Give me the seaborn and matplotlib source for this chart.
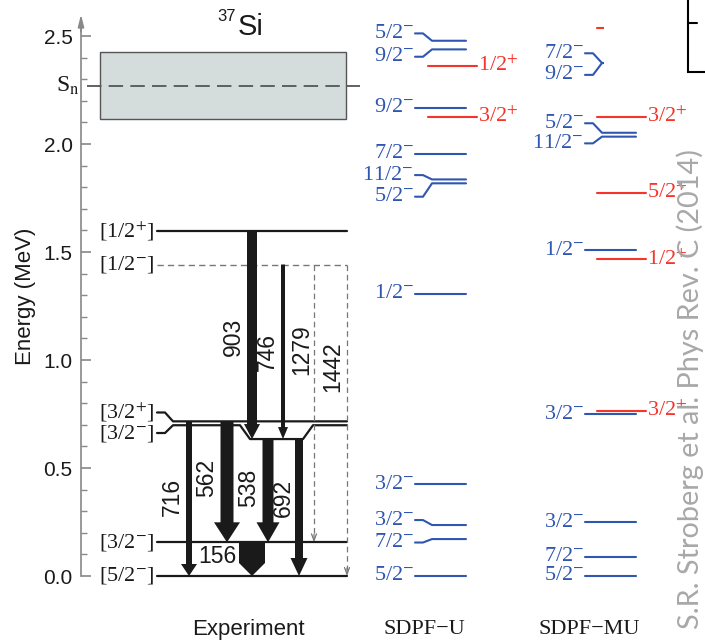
import matplotlib
matplotlib.use("Agg")
import numpy as np
import matplotlib.pyplot as plt
import seaborn as sns
from matplotlib.patches import Rectangle

# --- 37Si level scheme, energies in MeV ---
sn_energy = 2.27
sn_half_width = 0.155

exp_energy = [0.0, 0.156, 0.698, 0.716, 1.442, 1.597]
exp_spin = ["5/2", "3/2", "3/2", "3/2", "1/2", "1/2"]
exp_parity = ["-", "-", "-", "+", "-", "+"]
exp_label_energy = [0.0, 0.156, 0.662, 0.757, 1.442, 1.597]
exp_tentative = [False, False, False, False, True, False]
exp_spread = [False, False, True, False, False, False]
spread_energy = 0.634  # where the 3/2- level is pulled apart from 3/2+

gamma_kev = [903, 746, 1279, 1442, 716, 562, 538, 692, 156]
gamma_from = [1.597, 1.442, 1.442, 1.442, 0.716, 0.716, 0.634, 0.634, 0.156]
gamma_to = [0.634, 0.634, 0.156, 0.0, 0.0, 0.156, 0.156, 0.0, 0.0]
gamma_weak = [False, False, True, True, False, False, False, False, False]

# shell model SDPF-U
u_neg_energy = [0.0, 0.171, 0.236, 0.424, 1.306, 1.818, 1.836, 1.954, 2.168, 2.438, 2.478]
u_neg_spin = ["5/2", "7/2", "3/2", "3/2", "1/2", "5/2", "11/2", "7/2", "9/2", "9/2", "5/2"]
u_neg_label_energy = [0.0, 0.155, 0.259, 0.424, 1.306, 1.756, 1.856, 1.954, 2.168, 2.404, 2.512]
u_pos_energy = [2.127, 2.361]
u_pos_spin = ["3/2", "1/2"]

# shell model SDPF-MU
mu_neg_energy = [0.0, 0.089, 0.248, 0.748, 1.509, 2.034, 2.052, 2.375, 2.375]
mu_neg_spin = ["5/2", "7/2", "3/2", "3/2", "1/2", "11/2", "5/2", "9/2", "7/2"]
mu_neg_label_energy = [0.0, 0.089, 0.248, 0.748, 1.509, 2.003, 2.096, 2.32, 2.42]
mu_pos_energy = [0.765, 1.466, 1.772, 2.127, 2.537]
mu_pos_spin = ["3/2", "1/2", "5/2", "3/2", ""]

# --- style ---
ink, axis_grey, blue, red = "#1a1a1a", "#888888", "#2f56b0", "#f5352b"
px = 1 / 216  # one pixel in MeV

sns.set_theme(style="ticks")
plt.rcParams["font.family"] = ["Liberation Sans", "DejaVu Sans"]
plt.rcParams["mathtext.fontset"] = "stix"
serif = ["Liberation Serif", "DejaVu Serif"]


def jpi(spin, parity):
    return spin + "$^{" + parity + "}$" if spin else ""


fig = plt.figure(figsize=(7.05, 6.41), dpi=100)
ax = fig.add_axes([0, 0, 1, 1])
ax.set_xlim(0, 705)
ax.set_ylim(-65 * px, 576 * px)

# y axis
sns.despine(ax=ax, top=True, right=True, bottom=True, left=False)
ax.spines["left"].set_position(("data", 81))
ax.spines["left"].set_bounds(0, 2.58)
ax.spines["left"].set_color(axis_grey)
ax.spines["left"].set_linewidth(1.2)
ax.set_xticks([])
ax.set_yticks(np.arange(0, 2.51, 0.5))
ax.set_yticklabels([f"{v:.1f}" for v in np.arange(0, 2.51, 0.5)])
ax.set_yticks(np.arange(0, 2.55, 0.1), minor=True)
ax.tick_params(axis="y", which="major", left=True, direction="in", length=7, width=1.2,
               color=axis_grey, labelcolor=ink, labelsize=15, pad=6)
ax.tick_params(axis="y", which="minor", left=True, direction="in", length=4, width=1.0, color=axis_grey)
ax.annotate("", xy=(81, 2.60), xytext=(81, 2.52),
            arrowprops=dict(arrowstyle="-|>,head_length=0.6,head_width=0.15", color=axis_grey,
                            lw=1.2, shrinkA=0, shrinkB=0))
ax.text(25, 1.296, "Energy (MeV)", rotation=90, ha="center", va="center", fontsize=16, color=ink)

# neutron separation energy
ax.add_patch(Rectangle((100, sn_energy - sn_half_width), 246, 2 * sn_half_width,
                       facecolor="#d5dcdc", edgecolor="#555555", lw=1.0, zorder=1))
ax.plot([87, 360], [sn_energy, sn_energy], color="#555555", lw=1.3, dashes=(8, 4), zorder=2)
ax.text(80, sn_energy, "S$_\\mathrm{n}$", ha="right", va="center", fontsize=17, family=serif, color=ink)

# title
ax.text(238, 2.541, "Si", ha="left", va="center", fontsize=21, color=ink)
ax.text(236, 2.590, "37", ha="right", va="center", fontsize=12, color=ink)

# experimental levels
for e, s, p, le, tent, spread in zip(exp_energy, exp_spin, exp_parity, exp_label_energy,
                                     exp_tentative, exp_spread):
    xs, ys = [157, 165, 173], [le, le, e]
    if spread:
        xs += [240, 250, 303, 313]
        ys += [e, spread_energy, spread_energy, e]
    xs.append(347)
    ys.append(e)
    if tent:
        ax.plot(xs, ys, color="#777777", lw=1.0, dashes=(4.5, 3), zorder=3)
    else:
        ax.plot(xs, ys, color=ink, lw=1.6, zorder=3)
    ax.text(155, le, "[" + jpi(s, p) + "]", ha="right", va="center", fontsize=16, family=serif, color=ink)

# gamma transitions
gamma_x = [252, 283, 314, 347, 189, 227, 268, 299, 252]
gamma_w = [10, 4, 0, 0, 6, 13, 11, 8, 26]
head_w = [16, 10, 0, 0, 16, 26, 23, 17, 26]
head_l = [15, 12, 0, 0, 12, 20, 20, 18, 13]
lab_x = [233, 267, 302, 333, 172, 207, 249, 283, 217]
lab_e = [1.106, 1.037, 1.046, 0.968, 0.366, 0.454, 0.407, 0.361, 0.088]
for k, x, e0, e1, weak, w, hw, hl, lx, le in zip(gamma_kev, gamma_x, gamma_from, gamma_to, gamma_weak,
                                                gamma_w, head_w, head_l, lab_x, lab_e):
    if weak:
        ax.plot([x, x], [e0, e1 + 6 * px], color="#777777", lw=0.9, dashes=(4.5, 3), zorder=3)
        ax.annotate("", xy=(x, e1), xytext=(x, e1 + 8 * px),
                    arrowprops=dict(arrowstyle="->,head_length=0.4,head_width=0.15", color="#777777",
                                    lw=0.9, shrinkA=0, shrinkB=0))
    else:
        ax.arrow(x, e0, 0, e1 - e0, width=w, head_width=hw, head_length=hl * px,
                 length_includes_head=True, color=ink, lw=0, zorder=4)
    rot = 0 if k == 156 else 90
    ax.text(lx, le, str(k), rotation=rot, ha="center", va="center", fontsize=16.5, color=ink, zorder=5)


# shell model columns
def draw_model(neg_e, neg_s, neg_le, pos_e, pos_s, x_lab, x_end, xr0, xr1):
    for e, s, le in zip(neg_e, neg_s, neg_le):
        ax.plot([x_lab + 1, x_lab + 9, x_lab + 18, x_end], [le, le, e, e], color=blue, lw=1.5, zorder=3)
        ax.text(x_lab, le, jpi(s, "-"), ha="right", va="center", fontsize=16, family=serif, color=blue)
    for e, s in zip(pos_e, pos_s):
        ax.plot([xr0, xr1], [e, e], color=red, lw=1.5, zorder=3)
        ax.text(xr1 + 1, e, jpi(s, "+"), ha="left", va="center", fontsize=16, family=serif, color=red)


draw_model(u_neg_energy, u_neg_spin, u_neg_label_energy, u_pos_energy, u_pos_spin, 414, 466, 428, 477)
draw_model(mu_neg_energy, mu_neg_spin, mu_neg_label_energy, mu_pos_energy, mu_pos_spin, 584, 636, 597, 646)

# column captions
cap_e = -0.25
ax.text(248, cap_e, "Experiment", ha="center", va="center", fontsize=16, color=ink)
ax.text(424, cap_e, "SDPF\u2212U", ha="center", va="center", fontsize=16, family=serif, color=ink)
ax.text(589, cap_e, "SDPF\u2212MU", ha="center", va="center", fontsize=16, family=serif, color=ink)

# neighbouring panel overlapping the top right corner
ax.add_patch(Rectangle((604, 2.25), 83, 0.5, facecolor="white", edgecolor="none", zorder=6))
ax.plot([688, 688, 705], [2.7, 2.333, 2.333], color="black", lw=1.5, zorder=7, solid_joinstyle="miter")
ax.plot([688, 697], [2.560, 2.560], color="black", lw=1.5, zorder=7)

# citation watermark
ax.text(690, 0.866, "S.R. Stroberg et al. Phys Rev. C (2014)", rotation=90, ha="center", va="center",
        fontsize=20.8, color="#a8a8a8", family=["Lato", "DejaVu Sans"], zorder=8)

fig.savefig("out.png", dpi=100)
